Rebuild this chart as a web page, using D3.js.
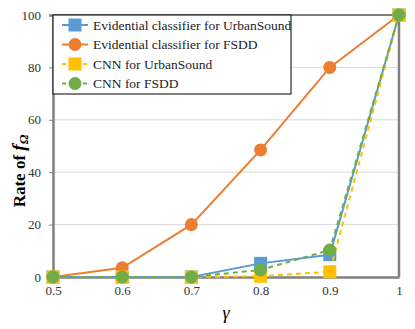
<!DOCTYPE html>
<html>
<head>
<meta charset="utf-8">
<script src="https://cdn.jsdelivr.net/npm/d3@7"></script>
<style>
  body { margin: 0; background: #fff; }
</style>
</head>
<body>
<div id="chart"></div>
<script>
const gammas = [0.5, 0.6, 0.7, 0.8, 0.9, 1];
const yTicks = [0, 20, 40, 60, 80, 100];
const evidUrban = [0, 0, 0, 5.2, 8.5, 100];
const evidFsdd = [0, 3.5, 20, 48.5, 80, 100];
const cnnUrban = [0, 0, 0, 0.3, 2, 100];
const cnnFsdd = [0, 0, 0, 2.7, 10.3, 100];
const seriesNames = ['Evidential classifier for UrbanSound', 'Evidential classifier for FSDD', 'CNN for UrbanSound', 'CNN for FSDD'];

const series = [
  { name: seriesNames[0], values: evidUrban, color: '#5B9BD5', marker: 'square', dash: null },
  { name: seriesNames[1], values: evidFsdd, color: '#ED7D31', marker: 'circle', dash: null },
  { name: seriesNames[2], values: cnnUrban, color: '#FFC000', marker: 'square', dash: '5,4' },
  { name: seriesNames[3], values: cnnFsdd, color: '#70AD47', marker: 'circle', dash: '5,4' }
];

const serif = '"Liberation Serif", "Times New Roman", "DejaVu Serif", serif';
const width = 415, height = 329;
const margin = { top: 15, right: 16, bottom: 52, left: 53 };

const svg = d3.select('#chart').append('svg')
  .attr('width', width)
  .attr('height', height)
  .style('font-family', serif);

const x = d3.scaleLinear().domain([0.5, 1]).range([margin.left, width - margin.right]);
const y = d3.scaleLinear().domain([0, 100]).range([height - margin.bottom, margin.top]);

// gridlines
svg.append('g')
  .selectAll('line')
  .data(yTicks.slice(1, -1))
  .enter().append('line')
  .attr('x1', x(0.5)).attr('x2', x(1))
  .attr('y1', d => y(d)).attr('y2', d => y(d))
  .attr('stroke', '#D9D9D9').attr('stroke-width', 1);

// top border
svg.append('line')
  .attr('x1', x(0.5)).attr('x2', x(1))
  .attr('y1', y(100)).attr('y2', y(100))
  .attr('stroke', '#000').attr('stroke-width', 1);

// y axis
const yAxis = svg.append('g')
  .attr('transform', `translate(${x(0.5)},0)`)
  .call(d3.axisLeft(y).tickValues(yTicks).tickSize(4).tickPadding(8));
yAxis.attr('font-family', null);
yAxis.select('.domain').attr('stroke', '#808080').attr('stroke-width', 2.5);
yAxis.selectAll('.tick line').attr('stroke', '#808080');
yAxis.selectAll('text').attr('font-size', 13).attr('fill', '#333');

// right border
svg.append('line')
  .attr('x1', x(1)).attr('x2', x(1))
  .attr('y1', y(100)).attr('y2', y(0))
  .attr('stroke', '#808080').attr('stroke-width', 2.5);

// x axis
const xAxis = svg.append('g')
  .attr('transform', `translate(0,${y(0)})`)
  .call(d3.axisBottom(x).tickValues(gammas).tickSize(0).tickPadding(9)
    .tickFormat(d => d === 1 ? '1' : d3.format('.1f')(d)));
xAxis.attr('font-family', null);
xAxis.select('.domain').attr('stroke', '#808080').attr('stroke-width', 2.5);
xAxis.selectAll('text').attr('font-size', 13).attr('fill', '#333');

// axis titles
svg.append('text')
  .attr('x', (x(0.5) + x(1)) / 2)
  .attr('y', 319)
  .attr('text-anchor', 'middle')
  .attr('font-size', 18)
  .attr('font-style', 'italic')
  .text('γ');

const yTitle = svg.append('text')
  .attr('transform', `translate(25,171) rotate(-90)`)
  .attr('text-anchor', 'middle')
  .attr('font-size', 17)
  .attr('font-weight', 'bold');
yTitle.append('tspan').text('Rate of ');
yTitle.append('tspan').attr('font-style', 'italic').attr('font-size', 19).text('f');
yTitle.append('tspan').attr('font-style', 'italic').attr('font-size', 13).attr('dy', 3).text('Ω');

// lines and markers
const line = d3.line().x((d, i) => x(gammas[i])).y(d => y(d));

function drawMarker(g, marker, color, cx, cy) {
  if (marker === 'square') {
    g.append('rect')
      .attr('x', cx - 6.5).attr('y', cy - 6.5)
      .attr('width', 13).attr('height', 13)
      .attr('fill', color);
  } else {
    g.append('circle')
      .attr('cx', cx).attr('cy', cy).attr('r', 6.5)
      .attr('fill', color);
  }
}

series.forEach(s => {
  const g = svg.append('g');
  g.append('path')
    .datum(s.values)
    .attr('d', line)
    .attr('fill', 'none')
    .attr('stroke', s.color)
    .attr('stroke-width', 2)
    .attr('stroke-dasharray', s.dash);
  s.values.forEach((v, i) => drawMarker(g, s.marker, s.color, x(gammas[i]), y(v)));
});

// legend
const legend = svg.append('g');
legend.append('rect')
  .attr('x', x(0.5)).attr('y', y(100))
  .attr('width', 238).attr('height', 79)
  .attr('fill', '#fff')
  .attr('stroke', '#000').attr('stroke-width', 1);

series.forEach((s, i) => {
  const ly = 25 + i * 19.5;
  legend.append('line')
    .attr('x1', 62).attr('x2', 88)
    .attr('y1', ly).attr('y2', ly)
    .attr('stroke', s.color).attr('stroke-width', 2)
    .attr('stroke-dasharray', s.dash ? '4,3' : null);
  drawMarker(legend, s.marker, s.color, 75, ly);
  legend.append('text')
    .attr('x', 93).attr('y', ly)
    .attr('dy', '0.35em')
    .attr('font-size', 13.5)
    .attr('fill', '#222')
    .text(s.name);
});
</script>
</body>
</html>
